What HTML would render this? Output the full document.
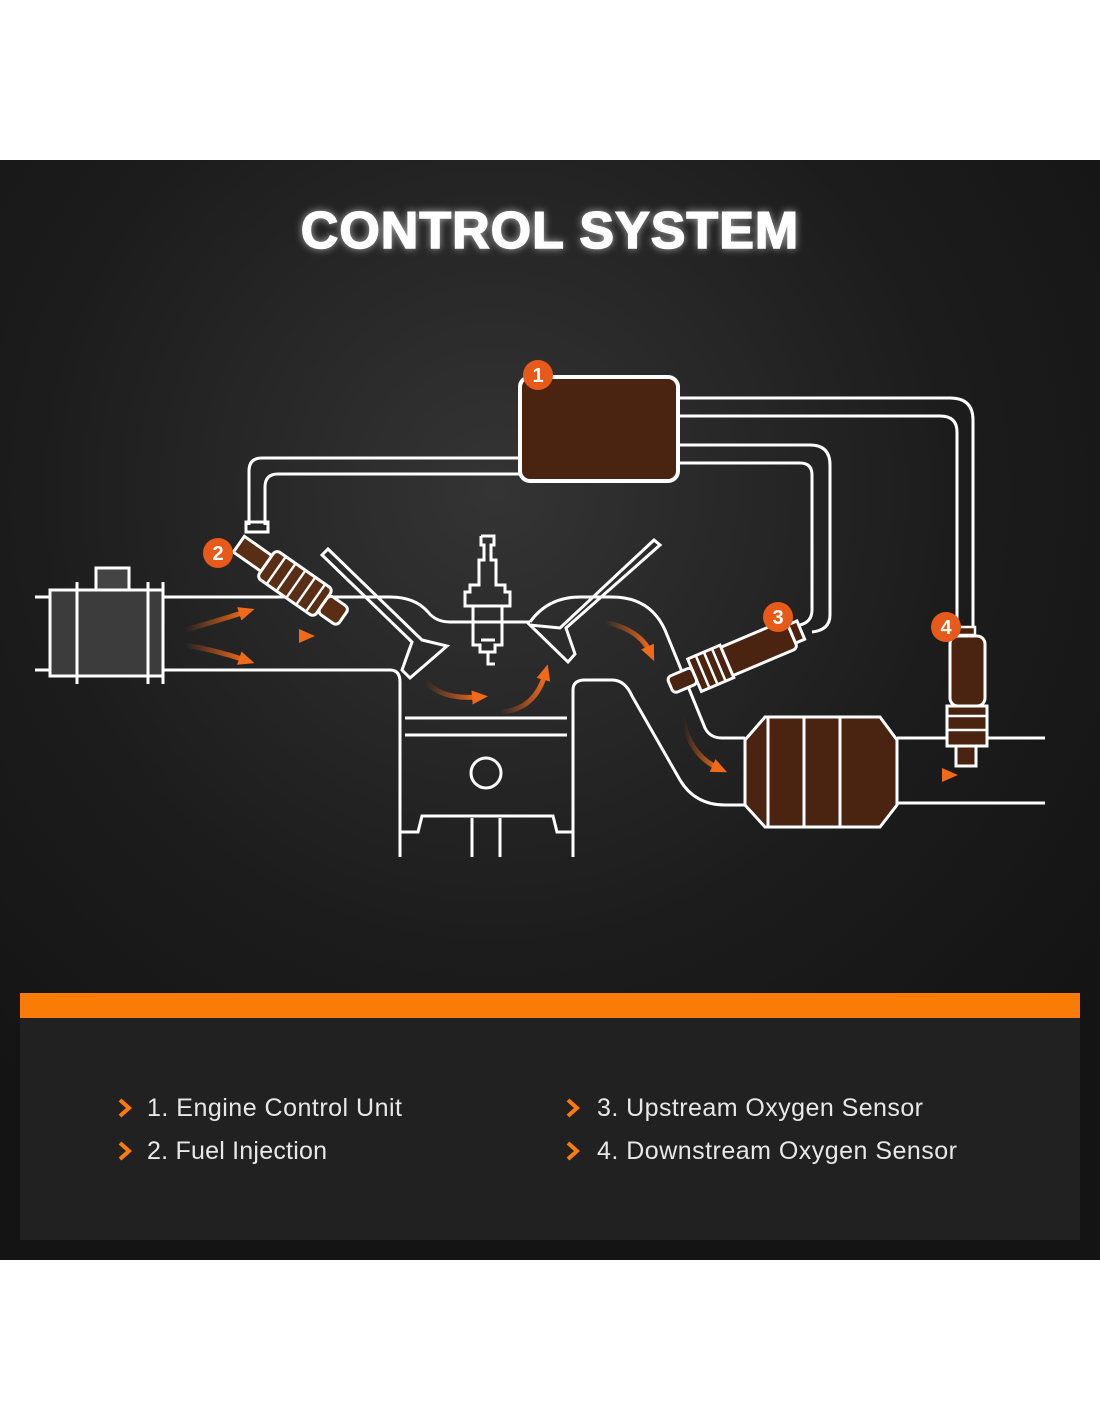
<!DOCTYPE html>
<html><head><meta charset="utf-8"><style>
html,body{margin:0;padding:0;background:#fff;}
body{width:1100px;height:1422px;position:relative;overflow:hidden;font-family:"Liberation Sans",sans-serif;}
</style></head><body>
<svg width="1100" height="1422" viewBox="0 0 1100 1422" xmlns="http://www.w3.org/2000/svg" style="position:absolute;left:0;top:0">
<defs>
<radialGradient id="bg" cx="0.45" cy="0.3" r="0.7">
<stop offset="0" stop-color="#343434"/><stop offset="0.6" stop-color="#1c1c1c"/><stop offset="1" stop-color="#141414"/>
</radialGradient>
<linearGradient id="fl" x1="0" x2="1"><stop offset="0" stop-color="#e8641c" stop-opacity="0"/><stop offset="1" stop-color="#f06a1a"/></linearGradient>
<marker id="ah" markerWidth="16" markerHeight="16" refX="6" refY="8" orient="auto" markerUnits="userSpaceOnUse"><path d="M0,1 L16,8 L0,15 Z" fill="#f06a1a"/></marker>
<filter id="glow"><feGaussianBlur stdDeviation="4"/></filter>
</defs>
<rect x="0" y="160" width="1100" height="1100" fill="url(#bg)"/>
<g font-size="52" font-weight="bold" fill="#fff" text-anchor="middle" stroke="#fff" stroke-width="1.5" letter-spacing="1">
<text x="550" y="248" filter="url(#glow)" opacity="0.6">CONTROL SYSTEM</text>
<text x="550" y="248">CONTROL SYSTEM</text>
</g>

<g fill="none" stroke="#fff" stroke-width="3">
<path d="M678,398 H950 Q973,398 973,420 V628"/>
<path d="M678,416 H940 Q957,416 957,432 V628"/>
<path d="M678,445 H810 Q830,445 830,465 V615 Q830,630 812,632"/>
<path d="M678,463 H800 Q812,463 812,475 V610 Q812,622 800,625"/>
<path d="M520,458 H262 Q249,458 249,471 V525"/>
<path d="M520,474 H278 Q265,474 265,487 V525"/>
<rect x="246" y="522" width="22" height="10"/>
<path d="M35,597 H52 M35,670 H52"/>
<path d="M163,597 H390 Q415,597 428,612 Q436,622 450,622 H530"/>
<path d="M163,670 H390 Q400,670 400,682 V857"/>
<path d="M530,622 Q548,597 580,597 H612 Q650,597 665,630 L705,728 Q710,738 722,738 H745"/>
<path d="M573,857 V690 Q573,680 585,680 H612 Q625,680 632,696 L680,780 Q695,805 725,805 H745"/>
<path d="M897,738 H1045 M897,803 H1045"/>
<path d="M405,718 H567 M405,735 H567"/>
<circle cx="486" cy="773" r="15"/>
<path d="M400,832 H418 L422,816 H553 L557,832 H573"/>
<path d="M472,818 V857 M500,818 V857"/>
<path d="M481,536 H494 V545 H491 V560 H496 V585 H505 V592 H510 V606 H502 V645 H495 V652 H488 V664 H495 M481,536 V545 H484 V560 H479 V585 H470 V592 H465 V606 H473 V645 H480 V652 H488"/>
<path d="M474,606 H502 M481,640 H495"/>
<path d="M322,555 L328,549 L422,640 L447,646 L410,678 L402,670 L412,642 Z"/>
<path d="M660,545 L654,540 L560,628 L530,625 L568,662 L575,654 L566,628 Z"/>
</g>
<rect x="50" y="590" width="113" height="86" fill="#3c3c3c" stroke="#fff" stroke-width="3"/>
<rect x="96" y="568" width="33" height="22" fill="#444" stroke="#fff" stroke-width="3"/>
<g stroke="#fff" stroke-width="3"><path d="M77,582 V684 M148,582 V684 M163,582 V684"/></g>
<rect x="520" y="377" width="158" height="104" rx="10" fill="#4a2410" stroke="#fff" stroke-width="4"/>
<polygon points="745,740 765,717 880,717 897,740 897,805 880,827 765,827 745,805" fill="#4a2410" stroke="#fff" stroke-width="3"/>
<path d="M768,717 V827 M804,717 V827 M840,717 V827" stroke="#fff" stroke-width="3"/>
<!-- injector -->
<g transform="translate(290,580) rotate(35) scale(1.2)">
<rect x="-52" y="-8" width="30" height="16" fill="#5a2e14" stroke="#fff" stroke-width="2.5"/>
<rect x="-24" y="-14" width="58" height="28" rx="4" fill="#5a2e14" stroke="#fff" stroke-width="2.5"/>
<path d="M-14,-14 V14 M-4,-14 V14 M6,-14 V14 M16,-14 V14 M26,-14 V14" stroke="#fff" stroke-width="2"/>
<rect x="34" y="-9" width="20" height="18" rx="4" fill="#5a2e14" stroke="#fff" stroke-width="2.5"/>
</g>
<!-- sensor 3 -->
<g transform="translate(735,658) rotate(-23) scale(1.1)">
<rect x="-10" y="-14" width="66" height="28" rx="4" fill="#4a2410" stroke="#fff" stroke-width="2.7"/>
<rect x="56" y="-9" width="9" height="18" fill="#4a2410" stroke="#fff" stroke-width="2.7"/>
<rect x="-40" y="-16" width="32" height="32" fill="#4a2410" stroke="#fff" stroke-width="2.7"/>
<path d="M-32,-16 V16 M-24,-16 V16 M-16,-16 V16" stroke="#fff" stroke-width="2.3"/>
<rect x="-64" y="-8" width="24" height="16" rx="4" fill="#4a2410" stroke="#fff" stroke-width="2.7"/>
</g>
<rect x="955" y="627" width="20" height="8" fill="#4a2410" stroke="#fff" stroke-width="2.5"/>
<rect x="950" y="636" width="35" height="70" rx="8" fill="#4a2410" stroke="#fff" stroke-width="3"/>
<rect x="947" y="706" width="40" height="40" fill="#4a2410" stroke="#fff" stroke-width="3"/>
<path d="M947,716 H987 M947,730 H987" stroke="#fff" stroke-width="2.5"/>
<rect x="956" y="746" width="20" height="20" fill="#4a2410" stroke="#fff" stroke-width="3"/>
<g fill="none" stroke="url(#fl)" stroke-width="5" stroke-linecap="round">
<path d="M185,630 Q220,620 245,612" marker-end="url(#ah)"/>
<path d="M185,636 H305" marker-end="url(#ah)"/>
<path d="M185,645 Q215,650 245,660" marker-end="url(#ah)"/>
<path d="M425,680 Q440,700 478,697" marker-end="url(#ah)"/>
<path d="M500,712 Q535,710 545,674" marker-end="url(#ah)"/>
<path d="M605,622 Q640,630 650,652" marker-end="url(#ah)"/>
<path d="M683,720 Q690,755 718,768" marker-end="url(#ah)"/>
<path d="M800,775 H948" marker-end="url(#ah)"/>
</g>
<g font-size="20" font-weight="bold" fill="#fff" text-anchor="middle">
<circle cx="538" cy="375" r="15" fill="#e85a1a"/><text x="538" y="382">1</text>
<circle cx="218" cy="553" r="15" fill="#e85a1a"/><text x="218" y="560">2</text>
<circle cx="778" cy="617" r="15" fill="#e85a1a"/><text x="778" y="624">3</text>
<circle cx="946" cy="627" r="15" fill="#e85a1a"/><text x="946" y="634">4</text>
</g>
<rect x="20" y="993" width="1060" height="25" fill="#fb7b07"/>
<rect x="20" y="1018" width="1060" height="222" fill="#212121"/>
<g font-size="25" fill="#e8e8e8">
<text x="147" y="1116" textLength="255">1. Engine Control Unit</text>
<text x="147" y="1159" textLength="180">2. Fuel Injection</text>
<text x="597" y="1116" textLength="326">3. Upstream Oxygen Sensor</text>
<text x="597" y="1159" textLength="360">4. Downstream Oxygen Sensor</text>
</g>
<g fill="none" stroke="#fb7b07" stroke-width="4">
<path d="M120,1100 L129,1108 L120,1116"/><path d="M120,1143 L129,1151 L120,1159"/>
<path d="M568,1100 L577,1108 L568,1116"/><path d="M568,1143 L577,1151 L568,1159"/>
</g>
</svg>
</body></html>
